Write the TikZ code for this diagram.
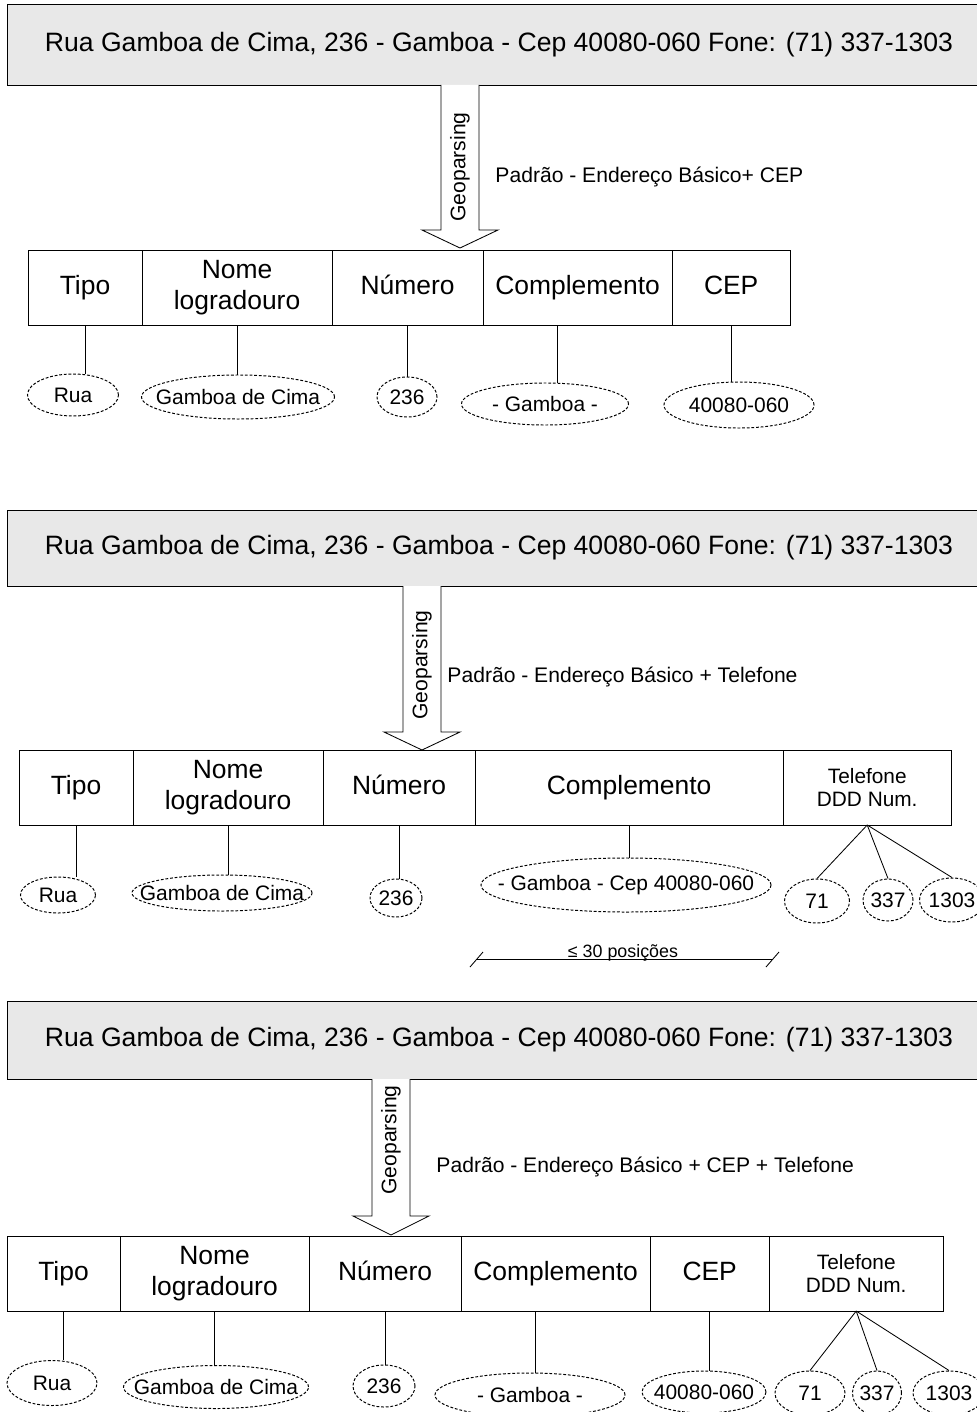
\documentclass[tikz,border=0pt]{standalone}
\usepackage{fontspec}
\setmainfont{Liberation Sans}
\usepackage{tikz}
\usetikzlibrary{positioning, calc, shapes.geometric, shadows}

\definecolor{hdrgray}{RGB}{232,232,232}

\begin{document}
\begin{tikzpicture}[
    x=0.025cm, y=-0.025cm,
    line width=0.7pt,
    hdr/.style={draw, fill=hdrgray, minimum width=24.55cm, inner sep=0, font=\fontsize{18.9}{22}\selectfont,
                drop shadow={shadow xshift=0.8pt, shadow yshift=-0.8pt, fill=gray!70, opacity=1}},
    cell/.style={draw, outer sep=0, minimum height=1.875cm, inner sep=0, text height=13.5pt, text depth=3.5pt, font=\fontsize{18.8}{22}\selectfont},
    cell2/.style={draw, outer sep=0, minimum height=1.875cm, inner sep=0, align=center, font=\fontsize{18.8}{22}\selectfont},
    telcell/.style={cell2, font=\fontsize{14.8}{17}\selectfont},
    val/.style={draw, ellipse, dash pattern=on 2pt off 1.3pt, inner sep=0, font=\fontsize{14.9}{17}\selectfont,
                execute at begin node={\hbox to 0pt\bgroup\hss}, execute at end node={\hss\egroup}},
    link/.style={line width=0.6pt},
    bigarrow/.style={draw, fill=white, line width=0.6pt},
    geolbl/.style={rotate=90, inner sep=0, font=\fontsize{15}{17}\selectfont},
    padrao/.style={anchor=west, inner sep=0, font=\fontsize{15}{17}\selectfont},
    postxt/.style={anchor=base, inner sep=0, font=\fontsize{12.7}{15}\selectfont},
]
\useasboundingbox (0,0) rectangle (976,1412);

% ---------- Padrao 1 : endereco basico + CEP
\node[hdr, minimum height=2cm] (hdrA) at (499,45) {Rua Gamboa de Cima, 236 - Gamboa - Cep 40080-060 Fone: (71) 337-1303};

\coordinate (gA) at (460,85);
\draw[bigarrow] (gA) ++(-19,0) -- ++(0,145) -- ++(-19,0) -- ++(38,18) -- ++(38,-18) -- ++(-19,0) -- ++(0,-145);
\node[geolbl] (geoA) at (460,167) {Geoparsing};
\node[padrao] (padA) at (495,177) {Padrão - Endereço Básico+ CEP};

\node[cell, minimum width=2.85cm, anchor=north west] (tipoA) at (28,250) {Tipo};
\node[cell2, minimum width=4.75cm, right=0pt of tipoA] (nomeA) {Nome\\logradouro};
\node[cell, minimum width=3.775cm, right=0pt of nomeA] (numA) {Número};
\node[cell, minimum width=4.725cm, right=0pt of numA] (compA) {Complemento};
\node[cell, minimum width=2.95cm, right=0pt of compA] (cepA) {CEP};

\node[val, minimum width=2.275cm, minimum height=1.05cm] (ruaA) at (73,395) {Rua};
\node[val, minimum width=4.825cm, minimum height=1.1cm] (logA) at (238,397) {Gamboa de Cima};
\node[val, minimum width=1.5cm, minimum height=1cm] (n236A) at (407,397) {236};
\node[val, minimum width=4.175cm, minimum height=1.05cm] (bairroA) at (545,404) {- Gamboa -};
\node[val, minimum width=3.75cm, minimum height=1.15cm] (cepvA) at (739,405) {40080-060};

\foreach \c/\v in {tipoA/ruaA, nomeA/logA, numA/n236A, cepA/cepvA} {
    \draw[link] (\c.south) -- (\c.south |- \v.north);
}
\coordinate (cA) at ($(compA.south)+(-20,0)$);
\draw[link] (cA) -- (cA |- bairroA.north);

% ---------- Padrao 2 : endereco basico + telefone
\node[hdr, minimum height=1.9cm] (hdrB) at (499,548) {Rua Gamboa de Cima, 236 - Gamboa - Cep 40080-060 Fone: (71) 337-1303};

\coordinate (gB) at (422,586);
\draw[bigarrow] (gB) ++(-19,0) -- ++(0,146) -- ++(-19,0) -- ++(38,18) -- ++(38,-18) -- ++(-19,0) -- ++(0,-146);
\node[geolbl] (geoB) at (422,665) {Geoparsing};
\node[padrao] (padB) at (447,677) {Padrão - Endereço Básico + Telefone};

\node[cell, minimum width=2.85cm, anchor=north west] (tipoB) at (19,750) {Tipo};
\node[cell2, minimum width=4.75cm, right=0pt of tipoB] (nomeB) {Nome\\logradouro};
\node[cell, minimum width=3.8cm, right=0pt of nomeB] (numB) {Número};
\node[cell, minimum width=7.7cm, right=0pt of numB] (compB) {Complemento};
\node[telcell, minimum width=4.2cm, right=0pt of compB] (telB) {Telefone\\DDD Num.};

\node[val, minimum width=1.875cm, minimum height=0.9cm] (ruaB) at (58,895) {Rua};
\node[val, minimum width=4.5cm, minimum height=0.9cm] (logB) at (222,893) {Gamboa de Cima};
\node[val, minimum width=1.3cm, minimum height=0.95cm] (n236B) at (396,898) {236};
\node[val, minimum width=7.25cm, minimum height=1.35cm] (bairroB) at (626,885) {- Gamboa - Cep 40080-060};
\node[val, minimum width=1.625cm, minimum height=1.1cm] (dddB) at (817,901) {71};
\node[val, minimum width=1.25cm, minimum height=1.05cm] (preB) at (888,900) {337};
\node[val, minimum width=1.625cm, minimum height=1.1cm] (sufB) at (952,900) {1303};

\foreach \c/\v in {tipoB/ruaB, nomeB/logB, numB/n236B, compB/bairroB} {
    \draw[link] (\c.south) -- (\c.south |- \v.north);
}
\foreach \v in {dddB, preB, sufB} {
    \draw[link] (telB.south) -- (\v.north);
}

% limite do complemento
\coordinate (limL) at (476,959);
\coordinate (limR) at (772,959);
\draw[link] (limL) -- (limR);
\draw[link] (limL) ++(-6,8) -- ++(13,-15);
\draw[link] (limR) ++(-6,8) -- ++(13,-15);
\node[postxt] (limtxt) at (623,957) {≤ 30 posições};

% ---------- Padrao 3 : endereco basico + CEP + telefone
\node[hdr, minimum height=1.95cm] (hdrC) at (499,1040) {Rua Gamboa de Cima, 236 - Gamboa - Cep 40080-060 Fone: (71) 337-1303};

\coordinate (gC) at (391,1079);
\draw[bigarrow] (gC) ++(-19,0) -- ++(0,137) -- ++(-19,0) -- ++(38,19) -- ++(38,-19) -- ++(-19,0) -- ++(0,-137);
\node[geolbl] (geoC) at (391,1140) {Geoparsing};
\node[padrao] (padC) at (436,1167) {Padrão - Endereço Básico + CEP + Telefone};

\node[cell, minimum width=2.825cm, anchor=north west] (tipoC) at (7,1236) {Tipo};
\node[cell2, minimum width=4.725cm, right=0pt of tipoC] (nomeC) {Nome\\logradouro};
\node[cell, minimum width=3.8cm, right=0pt of nomeC] (numC) {Número};
\node[cell, minimum width=4.725cm, right=0pt of numC] (compC) {Complemento};
\node[cell, minimum width=2.975cm, right=0pt of compC] (cepC) {CEP};
\node[telcell, minimum width=4.35cm, right=0pt of cepC] (telC) {Telefone\\DDD Num.};

\node[val, minimum width=2.25cm, minimum height=1.125cm] (ruaC) at (52,1383) {Rua};
\node[val, minimum width=4.625cm, minimum height=1.075cm] (logC) at (216,1387) {Gamboa de Cima};
\node[val, minimum width=1.55cm, minimum height=1.05cm] (n236C) at (384,1386) {236};
\node[val, minimum width=4.75cm, minimum height=1.1cm] (bairroC) at (530,1395) {- Gamboa -};
\node[val, minimum width=3.1cm, minimum height=1.05cm] (cepvC) at (704,1392) {40080-060};
\node[val, minimum width=1.75cm, minimum height=1.1cm] (dddC) at (810,1393) {71};
\node[val, minimum width=1.225cm, minimum height=1.1cm] (preC) at (877,1393) {337};
\node[val, minimum width=1.8cm, minimum height=1.1cm] (sufC) at (949,1393) {1303};

\foreach \c/\v in {tipoC/ruaC, nomeC/logC, numC/n236C, cepC/cepvC} {
    \draw[link] (\c.south) -- (\c.south |- \v.north);
}
\coordinate (cC) at ($(compC.south)+(-20,0)$);
\draw[link] (cC) -- (cC |- bairroC.north);
\foreach \v in {dddC, preC, sufC} {
    \draw[link] (telC.south) -- (\v.north);
}

\end{tikzpicture}
\end{document}
